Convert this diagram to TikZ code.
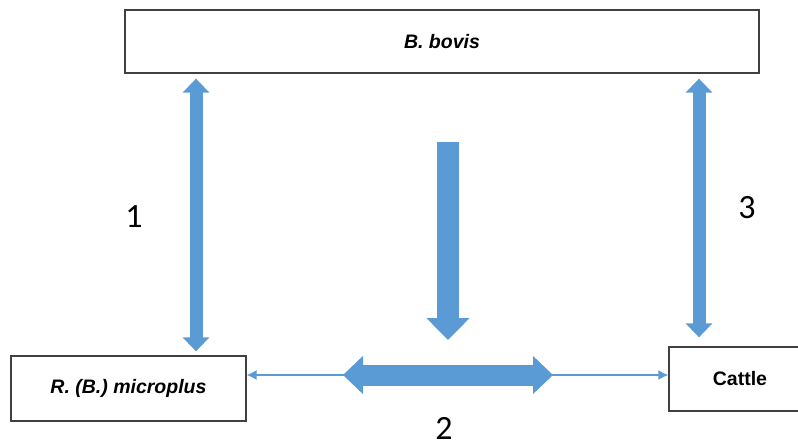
\documentclass[tikz,border=0pt]{standalone}
\usepackage{fontspec}
\setmainfont{Liberation Sans}
\newfontfamily\digitfont{Carlito}
\usetikzlibrary{arrows.meta}
\definecolor{arrowblue}{HTML}{5B9BD5}
\definecolor{boxline}{HTML}{404040}

\tikzset{
  box/.style={draw=boxline, line width=1.3pt, fill=white, inner sep=0pt,
    font=\fontsize{19.5}{23}\selectfont\bfseries},
  thinlink/.style={draw=arrowblue, line width=1.4pt,
    {Latex[length=10pt,width=10pt]}-{Latex[length=10pt,width=10pt]}},
  slimarrow/.style={draw=arrowblue, line width=13pt,
    {Triangle[width=26pt,length=14pt]}-{Triangle[width=26pt,length=14pt]}},
  fatdown/.style={draw=arrowblue, line width=22pt,
    -{Triangle[width=42pt,length=22pt]}},
  fatboth/.style={draw=arrowblue, line width=21pt,
    {Triangle[width=37pt,length=20pt]}-{Triangle[width=37pt,length=20pt]}},
  numlabel/.style={font=\digitfont\fontsize{34}{40}\selectfont, inner sep=0pt,
    text height=22pt, text depth=0pt, anchor=base}
}

\begin{document}
\begin{tikzpicture}[x=1pt, y=-1pt]
\useasboundingbox (0,0) rectangle (798,445);
\clip (0,0) rectangle (798,445);

% boxes
\node[box, minimum width=634pt, minimum height=63pt] (bovis) at (442,41.5) {\itshape B. bovis};
\node[box, minimum width=235pt, minimum height=65pt] (micro) at (128.5,388.5) {\itshape R. (B.) microplus};
\node[box, minimum width=142pt, minimum height=64pt] (cattle) at (740,379) {Cattle};

% ends of the central block arrows
\coordinate (downtop) at (448,142);
\coordinate (downtip) at (448,340);
\coordinate (hleft) at (343,375);
\coordinate (hright) at (553,375);

% thin link between tick and cattle
\draw[thinlink] ([yshift=13.5pt]micro.east) -- ([yshift=4pt]cattle.west);

% block arrows
\draw[slimarrow] ([xshift=-246pt,yshift=-5pt]bovis.south) -- ([xshift=67.5pt,yshift=4pt]micro.north);
\draw[slimarrow] ([xshift=257pt,yshift=-5pt]bovis.south) -- ([xshift=-41pt,yshift=9pt]cattle.north);
\draw[fatdown] (downtop) -- (downtip);
\draw[fatboth] (hleft) -- (hright);

% numbers (placed on their baselines)
\node[numlabel] (n1) at (134,227) {1};
\node[numlabel] (n2) at (444,439) {2};
\node[numlabel] (n3) at (747,218) {3};
\end{tikzpicture}
\end{document}
